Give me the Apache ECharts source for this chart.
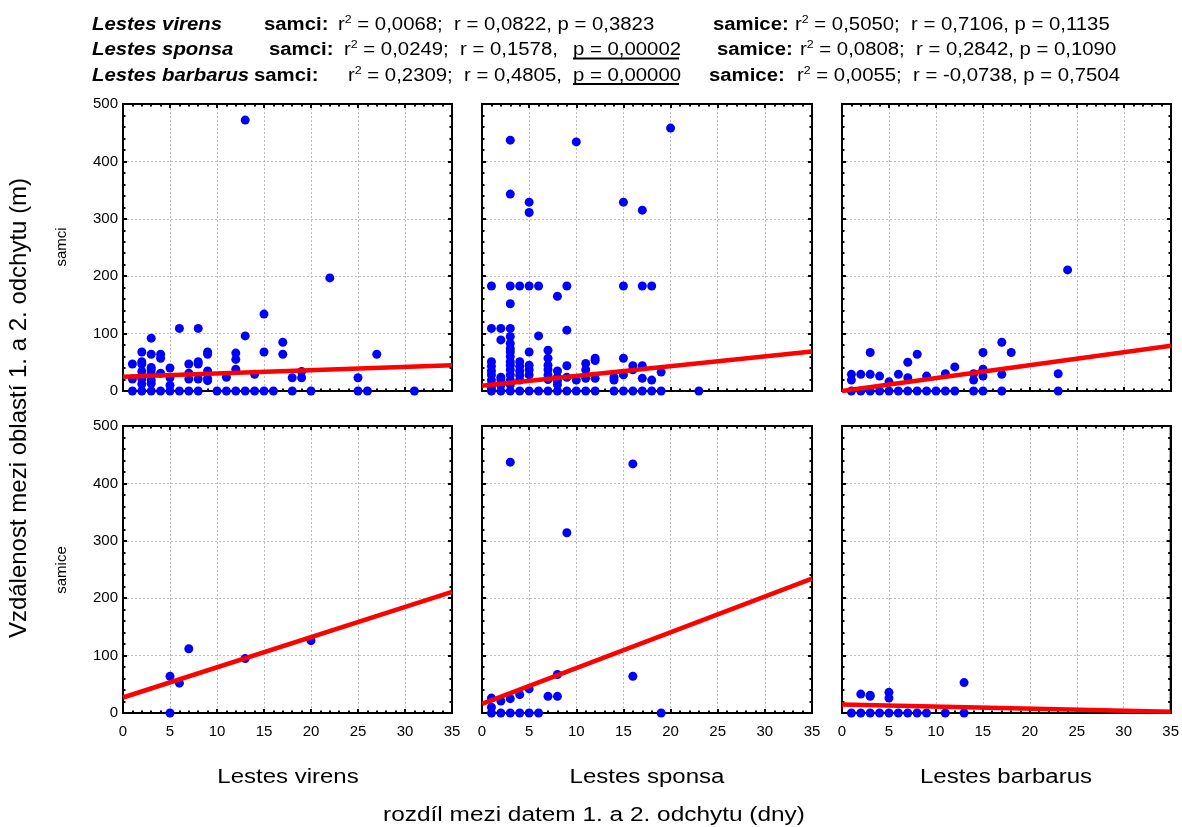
<!DOCTYPE html>
<html>
<head>
<meta charset="utf-8">
<script src="https://cdn.jsdelivr.net/npm/echarts@6/dist/echarts.min.js"></script>
<style>
  html, body { margin: 0; padding: 0; background: #fff; }
  #chart { width: 1182px; height: 827px; }
</style>
</head>
<body>
<div id="chart"></div>
<script>
// Species (columns) and sexes (rows)
const species = ['Lestes virens', 'Lestes sponsa', 'Lestes barbarus'];
const sexes = ['samci', 'samice'];

// Axis tick settings (days on x, metres on y)
const xRange = [0, 35, 5];
const yRange = [0, 500, 100];

// [days between captures, distance in m]
const virensMales = [
  [1,0],[2,0],[3,0],[4,0],[5,0],[6,0],[7,0],[8,0],[10,0],[11,0],[12,0],[13,0],[14,0],[15,0],[16,0],[18,0],[20,0],[25,0],[26,0],[31,0],
  [1,47],[1,21],
  [2,68],[2,51],[2,47],[2,34],[2,21],[2,12],
  [3,92],[3,64],[3,41],[3,37],[3,30],[3,19],[3,13],
  [4,64],[4,57],[4,31],
  [5,40],[5,23],[5,10],
  [6,109],
  [7,47],[7,31],[7,21],
  [8,109],[8,51],[8,47],[8,21],
  [9,68],[9,64],[9,35],[9,22],[9,18],
  [11,24],
  [12,66],[12,55],[12,38],
  [13,472],[13,96],
  [14,29],
  [15,134],[15,68],
  [17,85],[17,64],
  [18,23],
  [19,34],[19,23],
  [22,197],
  [25,23],
  [27,64]
];
const sponsaMales = [
  [1,0],[2,0],[3,0],[4,0],[5,0],[6,0],[7,0],[8,0],[9,0],[10,0],[11,0],[12,0],[14,0],[15,0],[16,0],[17,0],[18,0],[19,0],[23,0],
  [1,183],[1,109],[1,51],[1,43],[1,35],[1,28],[1,19],[1,11],[1,5],
  [2,109],[2,89],[2,24],[2,19],[2,10],
  [3,437],[3,343],[3,183],[3,152],[3,109],[3,95],[3,83],[3,74],[3,68],[3,60],[3,51],[3,45],[3,37],[3,28],[3,19],[3,11],
  [4,183],[4,51],[4,43],[4,35],[4,27],[4,19],
  [5,329],[5,311],[5,183],[5,68],[5,45],[5,37],[5,28],
  [6,183],[6,96],
  [7,71],[7,57],[7,45],[7,37],[7,28],[7,20],
  [8,165],[8,35],[8,24],[8,18],[8,11],
  [9,183],[9,106],[9,44],[9,24],
  [10,434],[10,19],
  [11,48],[11,37],[11,22],
  [12,57],[12,53],[12,22],
  [14,24],[14,19],
  [15,329],[15,183],[15,57],[15,28],
  [16,44],[16,37],
  [17,315],[17,183],[17,44],[17,22],
  [18,183],[18,19],
  [19,33],
  [20,458]
];
const barbarusMales = [
  [1,0],[2,0],[3,0],[4,0],[5,0],[6,0],[7,0],[8,0],[9,0],[10,0],[11,0],[12,0],[14,0],[15,0],[17,0],[23,0],
  [1,29],[1,19],[2,29],[3,67],[3,29],[4,26],[5,16],[6,29],[7,50],[7,23],[8,64],[9,26],[11,30],[12,42],
  [14,30],[14,19],[15,67],[15,38],[15,26],[17,85],[17,29],[18,67],[23,30],[24,211]
];
const virensFemales = [[5,64],[5,0],[6,52],[7,112],[13,95],[20,126]];
const sponsaFemales = [
  [3,437],[16,434],[9,314],[16,64],[8,67],[7,29],[8,29],[5,42],[4,32],[3,25],[2,21],[1,26],[1,10],
  [1,0],[2,0],[3,0],[4,0],[5,0],[6,0],[19,0]
];
const barbarusFemales = [
  [2,33],[3,31],[3,29],[5,36],[5,26],[13,53],
  [1,0],[2,0],[3,0],[4,0],[5,0],[6,0],[7,0],[8,0],[9,0],[11,0],[13,0]
];

// Regression lines, as end points at 0 and 35 days
const virensMalesFit = [[0,25],[35,45]];
const sponsaMalesFit = [[0,9],[35,69]];
const barbarusMalesFit = [[0,0],[35,79]];
const virensFemalesFit = [[0,27],[35,211]];
const sponsaFemalesFit = [[0,16],[35,234]];
const barbarusFemalesFit = [[0,15],[35,2]];

// Regression statistics printed above the panels
const statRows = [
  { name: 'Lestes virens',   males: ['r', '2', ' = 0,0068;  r = 0,0822, p = 0,3823'], malesP: '',            females: ['r', '2', ' = 0,5050;  r = 0,7106, p = 0,1135'] },
  { name: 'Lestes sponsa',   males: ['r', '2', ' = 0,0249;  r = 0,1578,'],              malesP: 'p = 0,00002', females: ['r', '2', ' = 0,0808;  r = 0,2842, p = 0,1090'] },
  { name: 'Lestes barbarus', males: ['r', '2', ' = 0,2309;  r = 0,4805,'],              malesP: 'p = 0,00000', females: ['r', '2', ' = 0,0055;  r = -0,0738, p = 0,7504'] }
];
const yTitle = 'Vzdálenost mezi oblastí 1. a 2. odchytu (m)';
const xTitle = 'rozdíl mezi datem 1. a 2. odchytu (dny)';

const panels = [
  [virensMales, virensMalesFit], [sponsaMales, sponsaMalesFit], [barbarusMales, barbarusMalesFit],
  [virensFemales, virensFemalesFit], [sponsaFemales, sponsaFemalesFit], [barbarusFemales, barbarusFemalesFit]
];

// Layout of the 2 x 3 panel grid
const colLeft = [123, 482, 842];
const colWidth = [329, 330, 329];
const rowTop = [104, 426];
const panelHeight = 287;

const FONT = '"Liberation Sans", Arial, sans-serif';
const BLUE = '#0000ff';
const RED = '#ff0000';

const grids = [], xAxes = [], yAxes = [], series = [];

function axisCommon(labelsShown, gridLines) {
  return {
    axisLine: { show: true, onZero: false, lineStyle: { color: '#000', width: 2 } },
    axisTick: { show: true, inside: true, length: 4, lineStyle: { color: '#000', width: 2 } },
    minorTick: { show: true, splitNumber: 5, length: 2.5, lineStyle: { color: '#000', width: 2 } },
    axisLabel: { show: labelsShown, color: '#000', fontSize: 15, fontFamily: FONT },
    splitLine: { show: gridLines, lineStyle: { color: '#bdbdbd', width: 1, type: [2, 2] } },
    minorSplitLine: { show: false }
  };
}

panels.forEach(([points, fit], i) => {
  const row = Math.floor(i / 3), col = i % 3;
  grids.push({ left: colLeft[col], top: rowTop[row], width: colWidth[col], height: panelHeight,
               show: true, borderColor: '#000', borderWidth: 2, backgroundColor: '#fff' });
  const xb = Object.assign(axisCommon(row === 1, true), {
    type: 'value', gridIndex: i, position: 'bottom', min: xRange[0], max: xRange[1], interval: xRange[2]
  });
  xb.axisLabel.margin = 11;
  const xt = Object.assign(axisCommon(false, false), {
    type: 'value', gridIndex: i, position: 'top', min: xRange[0], max: xRange[1], interval: xRange[2]
  });
  const yl = Object.assign(axisCommon(col === 0, true), {
    type: 'value', gridIndex: i, position: 'left', min: yRange[0], max: yRange[1], interval: yRange[2]
  });
  yl.axisLabel.margin = 5;
  const yr = Object.assign(axisCommon(false, false), {
    type: 'value', gridIndex: i, position: 'right', min: yRange[0], max: yRange[1], interval: yRange[2]
  });
  xAxes.push(xb, xt);
  yAxes.push(yl, yr);
  series.push({
    type: 'scatter', xAxisIndex: 2 * i, yAxisIndex: 2 * i, data: points,
    symbol: 'circle', symbolSize: 9, itemStyle: { color: BLUE, opacity: 1 }, z: 3, clip: false,
    silent: true, animation: false
  });
  series.push({
    type: 'line', xAxisIndex: 2 * i, yAxisIndex: 2 * i, data: fit,
    showSymbol: false, symbol: 'none', lineStyle: { color: RED, width: 4.5 }, z: 4, clip: true,
    silent: true, animation: false
  });
});

// Text elements; scaleX widens glyphs slightly, as in the printed figure
function txt(x, y, text, font, opts) {
  return Object.assign({
    type: 'text', x: x, y: y, silent: true, z: 10,
    style: { text: text, font: font, fill: '#000', textAlign: 'left', textVerticalAlign: 'middle',
             align: 'left', verticalAlign: 'middle' }
  }, opts || {});
}
function stat(x, y, parts, sx) {
  return {
    type: 'text', x: x, y: y, silent: true, z: 10, scaleX: sx,
    style: {
      text: '{t|' + parts[0] + '}{s|' + parts[1] + '}{t|' + parts[2] + '}',
      textAlign: 'left', textVerticalAlign: 'middle', align: 'left', verticalAlign: 'middle',
      rich: {
        t: { font: '18px ' + FONT, fill: '#000', lineHeight: 22 },
        s: { font: '11px ' + FONT, fill: '#000', lineHeight: 12, verticalAlign: 'top' }
      }
    }
  };
}

const HS = 1.13;
const lineY = [25, 50.5, 76];
const nameX = [92, 92, 92];
const samciX = [264, 269, 254];
const statX = [338, 344, 348];
const pX = [573, 573, 573];
const samiceX = [713, 717, 709];
const fStatX = [795, 800, 797];

const graphics = [];
statRows.forEach((r, k) => {
  const y = lineY[k];
  graphics.push(txt(nameX[k], y, r.name, 'italic bold 18px ' + FONT, { scaleX: HS }));
  graphics.push(txt(samciX[k], y, sexes[0] + ':', 'bold 18px ' + FONT, { scaleX: HS }));
  graphics.push(stat(statX[k], y, r.males, HS));
  if (r.malesP) {
    graphics.push(txt(pX[k], y, r.malesP, '18px ' + FONT, { scaleX: HS }));
    graphics.push({ type: 'line', silent: true, z: 10,
      shape: { x1: pX[k], y1: y + 8, x2: pX[k] + 106, y2: y + 8 },
      style: { stroke: '#000', lineWidth: 2 } });
  }
  graphics.push(txt(samiceX[k], y, sexes[1] + ':', 'bold 18px ' + FONT, { scaleX: HS }));
  graphics.push(stat(fStatX[k], y, r.females, HS));
});

// Column captions, axis titles and row labels
const capFont = '20px ' + FONT;
[288, 647, 1006].forEach((cx, k) => {
  const t = txt(cx, 777, species[k], capFont, { scaleX: 1.2 });
  t.style.textAlign = t.style.align = 'center';
  graphics.push(t);
});
const xt = txt(594, 815, xTitle, '20px ' + FONT, { scaleX: 1.22 });
xt.style.textAlign = xt.style.align = 'center';
graphics.push(xt);
const yt = txt(19, 408, yTitle, '24px ' + FONT, { rotation: Math.PI / 2 });
yt.style.textAlign = yt.style.align = 'center';
graphics.push(yt);
[[62, 247, sexes[0]], [62, 570, sexes[1]]].forEach(([x, y, s]) => {
  const t = txt(x, y, s, '15px ' + FONT, { rotation: Math.PI / 2 });
  t.style.textAlign = t.style.align = 'center';
  graphics.push(t);
});

const chart = echarts.init(document.getElementById('chart'), null, { renderer: 'canvas' });
chart.setOption({
  animation: false,
  backgroundColor: '#fff',
  textStyle: { fontFamily: FONT },
  grid: grids,
  xAxis: xAxes,
  yAxis: yAxes,
  series: series,
  graphic: { elements: graphics }
});
</script>
</body>
</html>
